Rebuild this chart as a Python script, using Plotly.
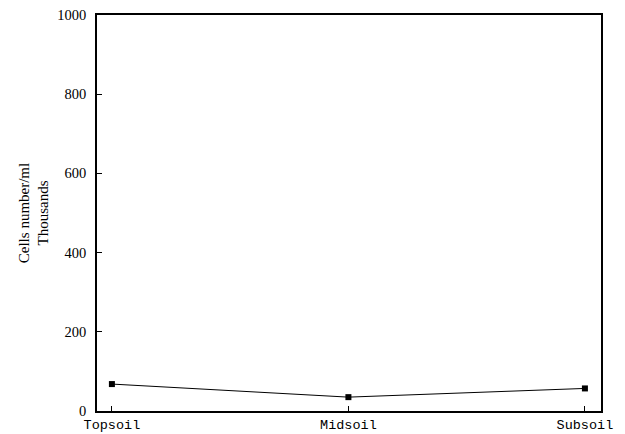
import plotly.graph_objects as go

categories = ["Topsoil", "Midsoil", "Subsoil"]
cells_thousands = [68, 35, 57]
y_tick_vals = [0, 200, 400, 600, 800, 1000]

fig = go.Figure()
fig.add_trace(go.Scatter(
    x=list(range(len(categories))), y=cells_thousands,
    mode="lines+markers",
    line=dict(color="black", width=1),
    marker=dict(symbol="square", size=6, color="black"),
    showlegend=False,
))

fig.update_layout(
    width=625, height=434,
    margin=dict(l=97, r=24, t=15, b=23, autoexpand=False),
    paper_bgcolor="white", plot_bgcolor="white",
    font=dict(family="Liberation Serif", color="black", size=14),
)
fig.update_xaxes(
    tickvals=list(range(len(categories))), ticktext=categories,
    range=[-0.063, 2.068],
    tickfont=dict(family="Liberation Mono", size=13.5),
    ticks="inside", ticklen=5, tickcolor="black",
    showline=True, linecolor="black", linewidth=1.5, mirror=True,
    showgrid=False, zeroline=False, automargin=False,
)
fig.update_yaxes(
    tickvals=y_tick_vals, range=[0, 1000],
    tickfont=dict(family="Liberation Serif", size=14.5),
    ticks="inside", ticklen=5, tickcolor="black",
    ticklabelstandoff=6,
    showline=True, linecolor="black", linewidth=1.5, mirror=True,
    showgrid=False, zeroline=False, automargin=False,
    title=dict(text="Cells number/ml<br>Thousands", font=dict(family="Liberation Serif", size=15), standoff=5),
)
fig.write_html(
    "out.html",
    config={"displayModeBar": False},
    post_script="document.body.style.margin='0';document.body.style.overflow='hidden';",
)
